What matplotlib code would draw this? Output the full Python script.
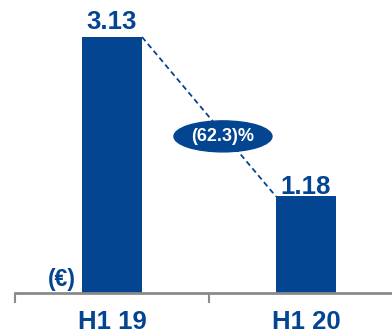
import matplotlib
matplotlib.use("Agg")
import matplotlib.pyplot as plt
from matplotlib.patches import Ellipse

categories = ["H1 19", "H1 20"]
values = [3.13, 1.18]
value_labels = ["3.13", "1.18"]
change_label = "(62.3)%"
unit_label = "(€)"

BLUE = "#034591"
GREY = "#8a8a8a"
FONT = "Liberation Sans"

fig = plt.figure(figsize=(3.92, 3.34), dpi=100)
ax = fig.add_axes([15/392, 41/334, 377/392, 293/334])
x = list(range(len(categories)))
bw = 60/194
ax.bar(x, values, width=bw, color=BLUE, zorder=2)
ax.set_xlim(-0.5, -0.5 + 377/194)
ax.set_ylim(0, 3.13 * 293/256)

for s in ["top", "right", "left"]:
    ax.spines[s].set_visible(False)
ax.spines["bottom"].set_color(GREY)
ax.spines["bottom"].set_linewidth(2)
ax.set_yticks([])
ax.set_xticks([-0.5, 0.5])
ax.set_xticklabels([])
ax.tick_params(axis="x", which="major", length=7.5, width=1.5, color=GREY, direction="out")
ax.set_xticks(x, minor=True)
ax.set_xticklabels(categories, minor=True, fontsize=18.5, fontweight="bold",
                   color=BLUE, family=FONT)
ax.tick_params(axis="x", which="minor", length=0, pad=12)

offsets = [5.5, 1.8]
for xi, v, lab, off in zip(x, values, value_labels, offsets):
    ax.annotate(lab, (xi, v), xytext=(0, off), textcoords="offset points",
                ha="center", va="baseline", fontsize=18.5, fontweight="bold",
                color=BLUE, family=FONT)

# dashed connector between bar tops
ax.plot([x[0] + bw/2, x[1] - bw/2], [values[0], values[1]], ls=(0, (3, 2)),
        color=BLUE, lw=1.3, zorder=1)

ex, ey = 0.572, 1.915
ax.add_patch(Ellipse((ex, ey), 98/194, 31/256*3.13, color=BLUE, zorder=3))
ax.text(ex, ey, change_label, ha="center", va="center", fontsize=13,
        fontweight="bold", color="white", family=FONT, zorder=4)

fig.text(76/392, (334-286)/334, unit_label, ha="right", va="baseline",
         fontsize=16.5, fontweight="bold", color=BLUE, family=FONT)

fig.savefig("out.png", dpi=100)
